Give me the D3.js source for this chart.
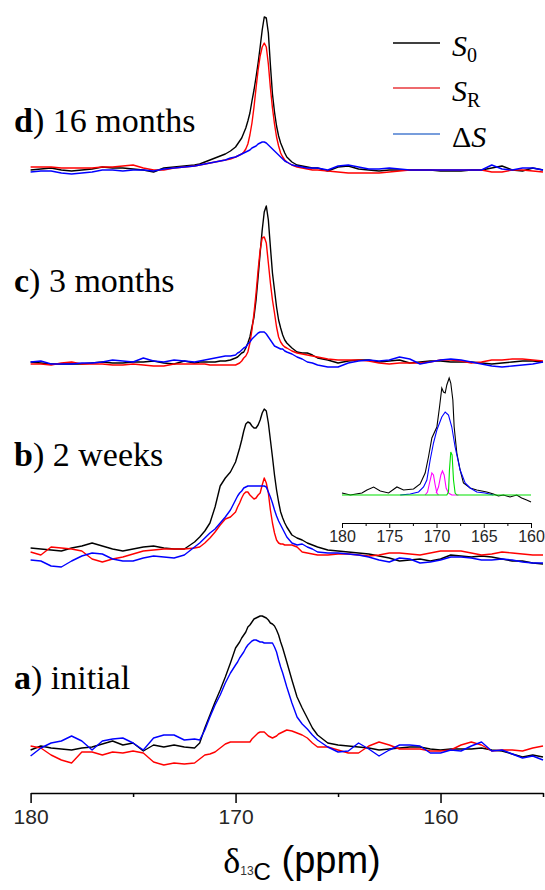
<!DOCTYPE html>
<html><head><meta charset="utf-8">
<script src="https://cdn.jsdelivr.net/npm/d3@7"></script>
<style>body{margin:0;background:#fff}svg{display:block}</style>
</head><body>
<svg id="chart" width="545" height="890"></svg>
<script>
// chemical shift grid (ppm) shared by all main spectra
const ppm = [180,179.5,179,178.5,178,177.5,177,176.5,176,175.5,175,174.5,174,173.5,173,172.5,172,
  171.75,171.5,171.25,171,170.75,170.5,170.25,170,
  169.9,169.8,169.7,169.6,169.5,169.4,169.3,169.2,169.1,169.0,168.9,168.8,168.7,168.6,168.5,168.4,168.3,168.2,168.1,168.0,167.9,167.8,167.7,167.6,167.5,
  167.25,167,166.75,166.5,166.25,166,
  165.5,165,164.5,164,163.5,163,162.5,162,161.5,161,160.5,160,159.5,159,158.5,158,157.5,157,156.5,156,155.5,155];

// d) 16 months
const d_S0 = [-2,-1,0,-2,-3,-2,-1,1,0,0,-1,-2,-4,0,1,2,3,
  4,6,8,10,12,14,17,21,
  24,27,30,35,40,47,55,67,78,91,105,121,138,151,150,135,103,74,56,42,32,25,20,15,11,
  6,3,2,1,0,0,
  -3,1,2,-1,-2,-3,-2,-2,-2,-2,-2,-3,-3,-3,-2,-2,0,2,-2,-3,0,-2];
const d_SR = [1,1,1,0,0,0,0,1,1,2,3,0,-2,-2,0,1,2,
  3,4,5,6,7,8,9,11,
  12,13,14,16,19,24,33,45,61,80,98,112,121,125,121,104,80,60,44,31,22,15,11,8,6,
  3,1,0,-1,-2,-2,
  -3,-4,-5,-5,-5,-5,-4,-3,-2,-2,-2,-2,-2,-2,-2,-2,-4,-4,-2,-2,-3,-4];
const d_dS = [-4,-3,-3,-5,-6,-5,-4,-2,-2,-3,-2,-2,-3,-1,0,1,2,
  3,4,5,6,7,8,10,11,
  12,13,14,15,16,17,18,20,21,22,24,25,26,26,25,23,21,19,17,15,13,11,9,7,6,
  3,2,1,0,0,0,
  -2,2,3,1,-1,-1,0,-1,-2,-2,-2,-2,-2,-2,-2,-2,3,-1,-2,0,0,-2];

// c) 3 months
const c_S0 = [0,-1,-2,-2,-2,-2,-1,0,-1,-1,0,0,1,-1,-2,1,-1,
  0,0,0,0,1,1,2,4,
  5,7,9,10,14,19,25,35,45,62,85,109,132,150,156,142,115,89,72,55,42,34,27,22,19,
  14,10,9,9,7,4,
  2,-1,1,2,2,0,1,2,-1,0,1,1,0,0,0,-1,-2,-1,0,1,1,0];
const c_SR = [-2,-2,-3,-1,0,-2,-2,-2,-3,-3,-2,-3,-4,-4,-2,-2,-2,
  -2,-2,-3,-3,-3,-3,-3,-3,
  -2,-1,1,4,6,10,19,32,49,69,92,112,124,125,119,99,79,62,49,35,25,20,17,15,14,
  11,9,8,7,6,5,
  3,2,2,2,1,-1,-2,-1,-1,-1,0,2,2,1,-1,0,2,2,3,3,2,1];
const c_dS = [0,1,-2,-2,-2,-1,-1,0,2,1,0,4,1,0,2,1,0,
  1,2,3,4,5,6,6,7,
  9,10,12,14,15,18,20,23,25,27,29,30,30,30,28,25,22,19,16,15,14,13,13,11,10,
  8,5,3,0,-1,-3,
  -5,-5,-1,1,2,1,2,5,3,-2,0,2,3,2,0,-2,-4,-5,-4,-3,-2,0];

// b) 2 weeks
const b_S0 = [8,7,6,5,8,10,13,10,7,5,7,9,10,8,7,7,14,
  19,25,33,49,70,78,84,94,
  101,108,116,125,132,134,133,130,128,128,131,136,143,147,145,133,116,99,81,66,54,44,38,33,29,
  21,18,16,13,11,9,
  6,5,4,3,2,0,-2,-5,-4,-3,-5,-3,1,0,-1,0,-1,-3,-5,-5,-7,-8];
const b_SR = [4,1,9,8,7,5,-3,-6,-3,-1,2,5,6,7,7,7,8,
  9,13,18,24,31,37,39,44,
  49,53,58,62,64,64,61,59,57,58,61,63,71,78,73,63,46,33,23,16,13,12,12,11,11,
  11,9,4,3,2,1,
  1,2,2,1,0,1,3,3,2,1,3,5,5,5,3,1,2,4,3,2,1,1];
const b_dS = [-4,-5,-10,-11,-5,0,3,2,-3,-5,-5,-2,0,-1,-2,1,9,
  13,18,23,27,33,39,46,56,
  60,63,65,68,69,70,70,70,70,70,70,70,70,70,69,64,59,53,46,40,35,31,27,23,19,
  13,11,12,9,7,4,
  3,3,2,1,-1,-4,-6,-2,-3,-7,-6,-4,-1,-1,-2,-4,-4,-3,-4,-6,-7,-7];

// a) initial
const a_S0 = [-2,2,0,-1,-2,0,1,4,7,3,5,-3,3,1,3,1,0,
  5,20,33,46,58,71,85,100,
  103,106,110,113,116,121,123,126,129,130,131,132,132,131,130,128,125,124,122,118,113,106,100,93,86,
  68,51,40,30,20,13,
  5,3,2,1,0,-2,-1,0,1,1,-1,-2,-1,-1,-1,0,-2,-3,-6,-9,-7,-9];
const a_SR = [2,0,-7,-12,-15,-4,-4,-7,-4,-5,-3,-5,-14,-17,-15,-16,-15,
  -11,-7,-6,-4,0,4,6,6,
  6,6,6,6,6,6,6,9,11,13,15,16,16,16,14,12,11,10,11,12,14,15,16,17,18,
  17,15,13,10,5,1,
  1,-2,-5,-5,2,6,3,-1,-1,-1,-3,-3,-2,3,6,3,-3,-2,-2,-3,0,2];
const a_dS = [-8,0,5,7,12,7,-2,7,9,10,5,-2,10,13,13,8,9,
  8,18,31,43,53,65,75,83,
  86,90,93,96,100,103,105,107,108,108,107,106,106,105,105,105,105,105,101,96,88,81,75,68,61,
  45,31,24,19,13,8,
  1,-4,-3,5,-1,-8,-2,3,3,2,-5,-5,-2,-3,2,6,-3,-2,-6,-10,-8,-12];

// inset (deconvolution of b): [ppm, intensity]
const inset_S0 = [[180,2],[179.12,0],[177.89,2],[177.36,5],[176.65,8],[175.95,4],[175.07,2],[174.19,8],[173.49,5],[172.43,6],[171.73,11],[171.2,22],[170.85,38],[170.49,57],[169.96,68],[169.68,88],[169.44,107],[169.26,103],[169.08,102],[168.91,110],[168.66,117],[168.49,112],[168.27,95],[168.13,68],[167.85,42],[167.5,25],[167.15,12],[166.44,7],[165.74,5],[164.68,3],[163.98,1],[163.45,-1],[162.92,0],[162.22,-2],[161.51,0],[160.99,-3],[160.46,-5],[160,-7]];
const inset_dS = [[173.84,0],[172.78,1],[171.9,3],[171.37,8],[171.02,15],[170.67,35],[170.32,52],[169.96,65],[169.44,78],[169.08,83],[168.73,80],[168.38,68],[168.03,48],[167.5,25],[166.97,12],[166.44,7],[165.74,3],[164.86,2],[163.98,0]];
const inset_fitA = [[171.2,0],[170.95,3],[170.74,12],[170.49,22],[170.32,20],[170.14,10],[169.96,2],[169.79,0]];
const inset_fitB = [[170.04,2],[169.79,8],[169.54,20],[169.37,24],[169.19,20],[168.98,7],[168.73,2],[168.38,0],[167.68,0]];
const inset_fitC = [[180,0],[168.91,0],[168.73,3],[168.63,25],[168.49,43],[168.35,40],[168.2,15],[168.03,2],[167.85,0],[160,0]];

const mainTicks = [180,170,160];
const mainMinor = [175,165,155];
const insetTicks = [180,175,170,165,160];
const insetMinor = [177.5,172.5,167.5,162.5];

const panels = [
  {id:'d', bold:'d', text:') 16 months', S0:d_S0, SR:d_SR, dS:d_dS},
  {id:'c', bold:'c', text:') 3 months', S0:c_S0, SR:c_SR, dS:c_dS},
  {id:'b', bold:'b', text:') 2 weeks', S0:b_S0, SR:b_SR, dS:b_dS},
  {id:'a', bold:'a', text:') initial', S0:a_S0, SR:a_SR, dS:a_dS}
];

// ---------- layout ----------
const base = {d:168, c:362, b:556, a:748};
const labelY = {d:132, c:292, b:466, a:689};
const colors = {S0:'#000000', SR:'#ff0000', dS:'#0000ff'};
const svg = d3.select('#chart');
const x = d3.scaleLinear().domain([180,155]).range([30.6,543]);

panels.forEach(p => {
  const y = d3.scaleLinear().domain([0,100]).range([base[p.id], base[p.id]-100]);
  const line = d3.line().x((v,i)=>x(ppm[i])).y(v=>y(v));
  ['S0','SR','dS'].forEach(k => {
    svg.append('path').attr('d', line(p[k])).attr('fill','none')
      .attr('stroke', colors[k]).attr('stroke-width',1.4).attr('stroke-linejoin','round');
  });
  const t = svg.append('text').attr('x',14).attr('y',labelY[p.id])
    .attr('font-family','"Liberation Serif","Times New Roman",serif').attr('font-size',34).attr('fill','#000');
  t.append('tspan').attr('font-weight','bold').text(p.bold);
  t.append('tspan').text(p.text);
});

// main axis
const axisY = 793;
const gAx = svg.append('g').attr('transform',`translate(0,${axisY})`);
gAx.call(d3.axisBottom(x).tickValues(mainTicks).tickSize(10).tickSizeOuter(0).tickPadding(6).tickFormat(d3.format('d')));
gAx.append('g').call(d3.axisBottom(x).tickValues(mainMinor).tickSize(4).tickSizeOuter(0).tickFormat(''))
  .select('.domain').remove();
gAx.selectAll('path,line').attr('stroke','#000').attr('stroke-width',1.5);
gAx.selectAll('text').attr('font-family','"Liberation Sans",Arial,sans-serif').attr('font-size',21).attr('fill','#262626');

// axis title
const title = svg.append('text').attr('x',302).attr('y',873).attr('text-anchor','middle')
  .attr('font-family','"Liberation Sans",Arial,sans-serif').attr('font-size',38).attr('fill','#000');
title.append('tspan').attr('font-family','"Liberation Serif",serif').attr('font-size',36).text('δ');
title.append('tspan').attr('font-size',12).attr('dy',2).attr('fill','#333').text('13');
title.append('tspan').attr('font-size',24).attr('dy',5).text('C');
title.append('tspan').attr('dy',-7).text(' (ppm)');

// inset
const xi = d3.scaleLinear().domain([180,160]).range([342,531]);
const yi = d3.scaleLinear().domain([0,100]).range([495,395]);
const li = d3.line().x(d=>xi(d[0])).y(d=>yi(d[1]));
[[inset_S0,'#000000'],[inset_dS,'#0000ff'],[inset_fitA,'#ff00ff'],[inset_fitB,'#ff00ff'],[inset_fitC,'#00e000']].forEach(([s,c]) => {
  svg.append('path').attr('d',li(s)).attr('fill','none').attr('stroke',c).attr('stroke-width',1.1);
});
const gIn = svg.append('g').attr('transform','translate(0,523)');
gIn.call(d3.axisBottom(xi).tickValues(insetTicks).tickSize(5).tickSizeOuter(0).tickPadding(3).tickFormat(d3.format('d')));
gIn.append('g').call(d3.axisBottom(xi).tickValues(insetMinor).tickSize(3).tickSizeOuter(0).tickFormat(''))
  .select('.domain').remove();
gIn.selectAll('path,line').attr('stroke','#000').attr('stroke-width',1);
gIn.selectAll('text').attr('font-family','"Liberation Sans",Arial,sans-serif').attr('font-size',16).attr('fill','#262626');

// legend
const legend = [
  {c:'#000000', main:'S', sub:'0', pre:''},
  {c:'#e8383d', main:'S', sub:'R', pre:''},
  {c:'#4a7dd0', main:'S', sub:'', pre:'Δ'}
];
const legY = [43, 88, 134];
legend.forEach((l,i) => {
  svg.append('line').attr('x1',393).attr('x2',440).attr('y1',legY[i]).attr('y2',legY[i])
    .attr('stroke',l.c).attr('stroke-width',1.5);
  const t = svg.append('text').attr('x',452).attr('y',legY[i]+13)
    .attr('font-family','"Liberation Serif","Times New Roman",serif').attr('font-size',30).attr('fill','#000');
  if (l.pre) t.append('tspan').text(l.pre);
  t.append('tspan').attr('font-style','italic').text(l.main);
  if (l.sub) t.append('tspan').attr('font-size',20).attr('dy',6).text(l.sub);
});
</script>
</body></html>
